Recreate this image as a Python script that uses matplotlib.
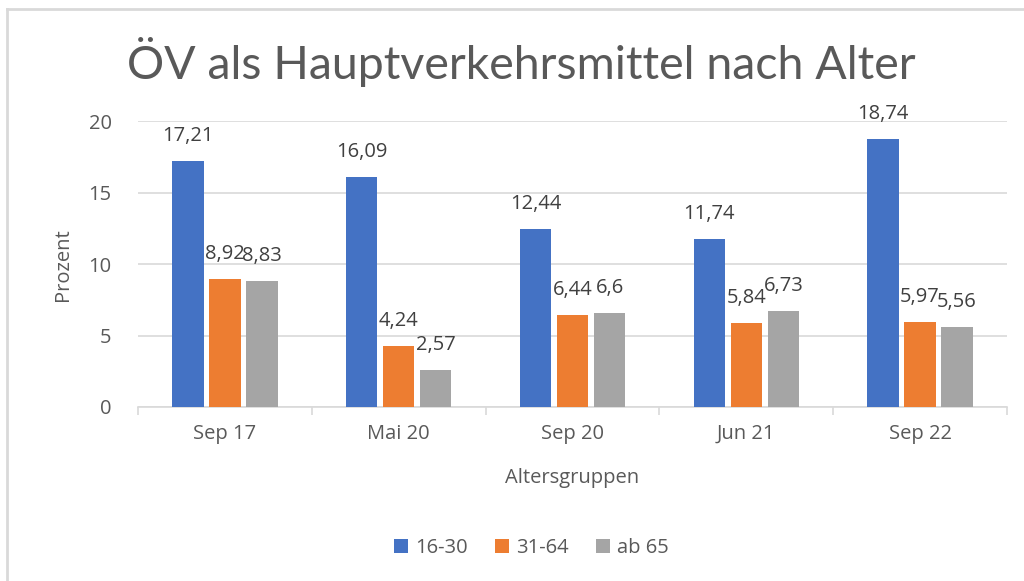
import matplotlib
matplotlib.use("Agg")
import matplotlib.pyplot as plt
import numpy as np
from matplotlib.lines import Line2D
from matplotlib.patches import Patch

categories = ["Sep 17", "Mai 20", "Sep 20", "Jun 21", "Sep 22"]
series_names = ["16-30", "31-64", "ab 65"]
v_16_30 = [17.21, 16.09, 12.44, 11.74, 18.74]
v_31_64 = [8.92, 4.24, 6.44, 5.84, 5.97]
v_ab65 = [8.83, 2.57, 6.6, 6.73, 5.56]
colors = ["#4472C4", "#ED7D31", "#A5A5A5"]
yticks = [0, 5, 10, 15, 20]

plt.rcParams['font.family'] = ['Open Sans', 'DejaVu Sans']
txt = "#595959"
fs = 14.5

fig = plt.figure(figsize=(10.24, 5.81), dpi=100)
ax = fig.add_axes([138/1024, 1-407/581, (1007-138)/1024, (407-121)/581])

x = np.arange(len(categories))
width = 0.18
offsets = [-0.213, 0.0, 0.213]
for vals, off, col, name in zip([v_16_30, v_31_64, v_ab65], offsets, colors, series_names):
    bars = ax.bar(x + off, vals, width, color=col, label=name, zorder=3)
    for b, v in zip(bars, vals):
        lab = ("%g" % v).replace(".", ",")
        ax.annotate(lab, (b.get_x() + b.get_width()/2, v), xytext=(0, 18),
                    textcoords="offset points", ha="center", va="center",
                    fontsize=fs, color="#404040", zorder=4)

ax.set_xlim(-0.5, len(categories) - 0.5)
ax.set_ylim(0, 20)
ax.set_yticks(yticks)
ax.set_yticklabels([str(t) for t in yticks], fontsize=fs, color=txt)
ax.yaxis.grid(True, color="#D9D9D9", linewidth=1.2, zorder=0)
ax.tick_params(axis="y", length=0, pad=19)

ax.set_xticks(x)
ax.set_xticklabels(categories, fontsize=fs, color=txt)
ax.set_xticks(np.arange(len(categories) + 1) - 0.5, minor=True)
ax.tick_params(axis="x", which="major", length=0, pad=12)
ax.tick_params(axis="x", which="minor", length=6, color="#D9D9D9", width=1.2)

for s in ["top", "right", "left"]:
    ax.spines[s].set_visible(False)
ax.spines["bottom"].set_color("#D9D9D9")
ax.spines["bottom"].set_linewidth(1.2)
ax.set_axisbelow(True)

fig.text(521/1024, 1-62/581, "ÖV als Hauptverkehrsmittel nach Alter", ha="center", va="center",
         fontsize=33.5, color=txt, family=["Lato", "DejaVu Sans"])
fig.text(63/1024, 1-265/581, "Prozent", rotation=90, ha="center", va="center", fontsize=fs, color=txt)
fig.text(572/1024, 1-478/581, "Altersgruppen", ha="center", va="center", fontsize=fs, color=txt)

handles = [Patch(facecolor=c, label=n) for c, n in zip(colors, series_names)]
fig.legend(handles=handles, loc="center", bbox_to_anchor=(531/1024, 1-548/581), ncol=3, frameon=False,
           fontsize=fs, labelcolor=txt, handlelength=0.7, handleheight=0.7, handletextpad=0.35,
           columnspacing=1.35)

fig.add_artist(Line2D([6.5/1024, 1], [1-8.5/581, 1-8.5/581], color="#D9D9D9", linewidth=2, transform=fig.transFigure))
fig.add_artist(Line2D([6.5/1024, 6.5/1024], [0, 1-8.5/581], color="#D9D9D9", linewidth=2, transform=fig.transFigure))

fig.savefig("out.png", dpi=100, facecolor="white")
